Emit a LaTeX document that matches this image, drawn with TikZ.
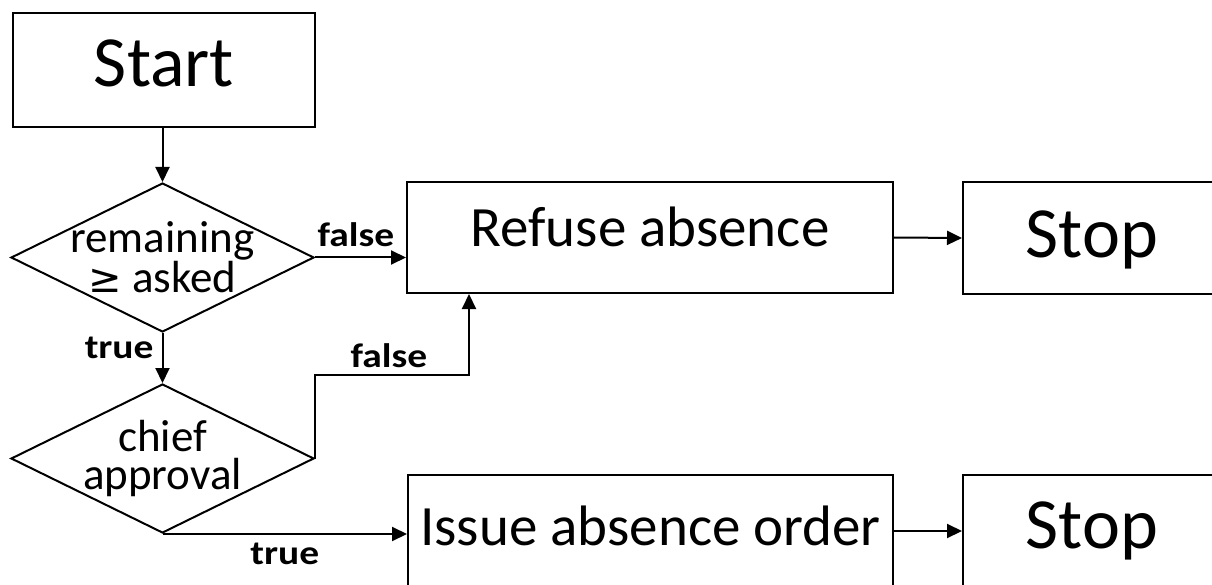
\documentclass[tikz,border=0pt]{standalone}
\usepackage{fontspec}
\setmainfont{Carlito}
\newfontfamily\symfont{DejaVu Sans}
\usetikzlibrary{arrows.meta,calc,shapes.geometric}
\begin{document}
\begin{tikzpicture}[x=1pt,y=-1pt,
  line width=2pt,
  box/.style={draw=black,rectangle,inner sep=0pt,line width=2pt},
  dia/.style={draw=black,diamond,inner sep=0pt,aspect=2,minimum width=303pt,minimum height=149pt,line width=2pt},
  diatext/.style={align=center,font=\fontsize{45}{38}\selectfont,inner sep=0pt},
  lbl/.style={font=\fontsize{34}{34}\selectfont\bfseries,inner sep=0pt},
  arr/.style={-{Triangle[length=15pt,width=14pt]},line width=2pt}
]
\useasboundingbox (0,0) rectangle (1212,585);
\fill[white] (0,0) rectangle (1212,585);

\node[box,minimum width=302pt,minimum height=114pt,font=\fontsize{72}{72}\selectfont,text height=45pt,text depth=11pt] (start) at (164,70) {Start};
\node[dia,label={[diatext]center:remaining\\{\symfont\fontsize{40}{38}\selectfont ≥} asked}] (d1) at (162.5,257.5) {};
\node[dia,label={[diatext]center:chief\\approval}] (d2) at (162.5,458.5) {};
\node[box,minimum width=486pt,minimum height=111pt,font=\fontsize{57}{57}\selectfont,text height=36pt,text depth=17pt] (refuse) at (650,237.5) {Refuse absence};
\node[box,minimum width=258pt,minimum height=112pt,font=\fontsize{72}{72}\selectfont,text height=45pt,text depth=5pt] (stop1) at (1092,238) {Stop};
\node[box,minimum width=485pt,minimum height=112pt,font=\fontsize{57}{57}\selectfont,text height=36pt,text depth=8pt] (issue) at (650.5,531) {Issue absence order};
\node[box,minimum width=258pt,minimum height=112pt,font=\fontsize{72}{72}\selectfont,text height=45pt,text depth=11pt] (stop2) at (1092,531) {Stop};

\draw[arr] (start.south -| d1.north) -- (d1.north);
\draw[arr] (d1.east) -- (d1.east -| refuse.west) node[lbl,pos=0.45,above=10pt] {\scalebox{1.16}[1]{false}};
\draw[arr] (d1.south) -- (d2.north) node[lbl,pos=0.3,left=8pt] {\scalebox{1.16}[1]{true}};
\draw[arr] (d2.east) -- ++(0,-84) -| ([xshift=63pt]refuse.south west)
  node[lbl,pos=0.24,above=6pt] {\scalebox{1.16}[1]{false}};
\draw[arr] (d2.south) -- (d2.south -| issue.west) node[lbl,pos=0.5,below=8pt] {\scalebox{1.16}[1]{true}};
\draw[arr] (refuse.east) -- (stop1.west);
\draw[arr] (issue.east) -- (stop2.west);
\end{tikzpicture}
\end{document}
